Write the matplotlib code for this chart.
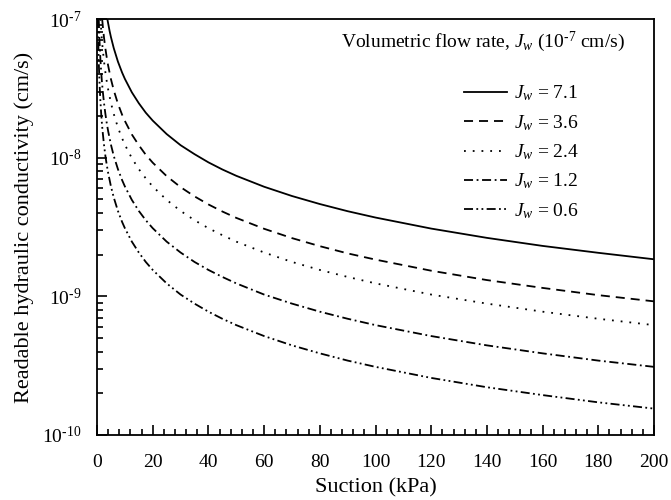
import matplotlib
matplotlib.use('Agg')
import numpy as np
import matplotlib.pyplot as plt
from matplotlib.ticker import MultipleLocator, LogLocator, NullFormatter, FuncFormatter

# curves: suction (kPa) vs readable hydraulic conductivity (cm/s)
s_71 = [3.7, 4.5, 5, 6, 7.5, 9, 10, 12.5, 15, 17.5, 20, 25, 30, 35, 40, 45, 50, 60, 70, 80,
        90, 100, 120, 140, 160, 180, 200]
k_71 = [1.0e-7, 8.22e-8, 7.4e-8, 6.17e-8, 4.93e-8, 4.11e-8, 3.7e-8, 2.96e-8, 2.47e-8, 2.11e-8,
        1.85e-8, 1.48e-8, 1.23e-8, 1.06e-8, 9.25e-9, 8.22e-9, 7.4e-9, 6.17e-9, 5.29e-9, 4.63e-9,
        4.11e-9, 3.7e-9, 3.08e-9, 2.64e-9, 2.31e-9, 2.06e-9, 1.85e-9]

s_36 = [1.84, 2.2, 2.5, 3, 3.5, 4, 5, 6, 7.5, 9, 10, 12.5, 15, 17.5, 20, 25, 30, 35, 40, 45,
        50, 60, 70, 80, 90, 100, 120, 140, 160, 180, 200]
k_36 = [1.0e-7, 8.36e-8, 7.36e-8, 6.13e-8, 5.26e-8, 4.6e-8, 3.68e-8, 3.07e-8, 2.45e-8, 2.04e-8,
        1.84e-8, 1.47e-8, 1.23e-8, 1.05e-8, 9.2e-9, 7.36e-9, 6.13e-9, 5.26e-9, 4.6e-9, 4.09e-9,
        3.68e-9, 3.07e-9, 2.63e-9, 2.3e-9, 2.04e-9, 1.84e-9, 1.53e-9, 1.31e-9, 1.15e-9, 1.02e-9,
        9.2e-10]

s_24 = [1.24, 1.5, 1.7, 2, 2.5, 3, 3.5, 4, 5, 6, 7.5, 9, 10, 12.5, 15, 17.5, 20, 25, 30, 35,
        40, 45, 50, 60, 70, 80, 90, 100, 120, 140, 160, 180, 200]
k_24 = [1.0e-7, 8.27e-8, 7.29e-8, 6.2e-8, 4.96e-8, 4.13e-8, 3.54e-8, 3.1e-8, 2.48e-8, 2.07e-8,
        1.65e-8, 1.38e-8, 1.24e-8, 9.92e-9, 8.27e-9, 7.09e-9, 6.2e-9, 4.96e-9, 4.13e-9, 3.54e-9,
        3.1e-9, 2.76e-9, 2.48e-9, 2.07e-9, 1.77e-9, 1.55e-9, 1.38e-9, 1.24e-9, 1.03e-9,
        8.86e-10, 7.75e-10, 6.89e-10, 6.2e-10]

s_12 = [0.62, 0.75, 0.85, 1, 1.2, 1.5, 1.7, 2, 2.5, 3, 3.5, 4, 5, 6, 7.5, 9, 10, 12.5, 15,
        17.5, 20, 25, 30, 35, 40, 45, 50, 60, 70, 80, 90, 100, 120, 140, 160, 180, 200]
k_12 = [1.0e-7, 8.27e-8, 7.29e-8, 6.2e-8, 5.17e-8, 4.13e-8, 3.65e-8, 3.1e-8, 2.48e-8, 2.07e-8,
        1.77e-8, 1.55e-8, 1.24e-8, 1.03e-8, 8.27e-9, 6.89e-9, 6.2e-9, 4.96e-9, 4.13e-9, 3.54e-9,
        3.1e-9, 2.48e-9, 2.07e-9, 1.77e-9, 1.55e-9, 1.38e-9, 1.24e-9, 1.03e-9, 8.86e-10,
        7.75e-10, 6.89e-10, 6.2e-10, 5.17e-10, 4.43e-10, 3.88e-10, 3.44e-10, 3.1e-10]

s_06 = [0.31, 0.38, 0.43, 0.5, 0.6, 0.75, 0.85, 1, 1.2, 1.5, 1.7, 2, 2.5, 3, 3.5, 4, 5, 6,
        7.5, 9, 10, 12.5, 15, 17.5, 20, 25, 30, 35, 40, 45, 50, 60, 70, 80, 90, 100, 120, 140,
        160, 180, 200]
k_06 = [1.0e-7, 8.16e-8, 7.21e-8, 6.2e-8, 5.17e-8, 4.13e-8, 3.65e-8, 3.1e-8, 2.58e-8, 2.07e-8,
        1.82e-8, 1.55e-8, 1.24e-8, 1.03e-8, 8.86e-9, 7.75e-9, 6.2e-9, 5.17e-9, 4.13e-9, 3.44e-9,
        3.1e-9, 2.48e-9, 2.07e-9, 1.77e-9, 1.55e-9, 1.24e-9, 1.03e-9, 8.86e-10, 7.75e-10,
        6.89e-10, 6.2e-10, 5.17e-10, 4.43e-10, 3.88e-10, 3.44e-10, 3.1e-10, 2.58e-10, 2.21e-10,
        1.94e-10, 1.72e-10, 1.55e-10]

labels = ['7.1', '3.6', '2.4', '1.2', '0.6']

plt.rcParams['font.family'] = 'Liberation Serif'
plt.rcParams['mathtext.fontset'] = 'custom'
plt.rcParams['mathtext.rm'] = 'Liberation Serif'
plt.rcParams['mathtext.it'] = 'Liberation Serif:italic'
plt.rcParams['lines.scale_dashes'] = False

fig = plt.figure(figsize=(6.71, 5.0), dpi=100)
ax = fig.add_axes([0.1446, 0.13, 0.8301, 0.832])

lw = 1.3
series = [(s_71, k_71, '-'),
          (s_36, k_36, (0, (6.5, 4.3))),
          (s_24, k_24, (0, (1.3, 5.0))),
          (s_12, k_12, (0, (6.5, 2.6, 1.3, 2.6))),
          (s_06, k_06, (0, (6.5, 2.4, 1.3, 2.4, 1.3, 2.4)))]

for (s, k, ls), lab in zip(series, labels):
    ax.plot(s, k, color='black', lw=lw, linestyle=ls, label=r'$J_w$ = ' + lab)

ax.set_yscale('log')
ax.set_xlim(0, 200)
ax.set_ylim(1e-10, 1e-7)

# short hyphen in the exponent, like the reference
def pow_label(v, pos):
    return r'$10^{\text{-}%d}$' % int(round(-np.log10(v)))

ax.xaxis.set_major_locator(MultipleLocator(20))
ax.xaxis.set_minor_locator(MultipleLocator(4))
ax.yaxis.set_major_locator(LogLocator(base=10))
ax.yaxis.set_major_formatter(FuncFormatter(pow_label))
ax.yaxis.set_minor_locator(LogLocator(base=10, subs=range(2, 10)))
ax.yaxis.set_minor_formatter(NullFormatter())
ax.tick_params(which='both', direction='in', top=False, right=False, labelsize=14, width=1.2)
ax.tick_params(which='major', length=7)
ax.tick_params(which='minor', length=4)
ax.tick_params(axis='x', which='major', pad=14)
ax.tick_params(axis='y', which='major', pad=11)
for sp in ax.spines.values():
    sp.set_linewidth(1.3)

ax.set_xlabel('Suction (kPa)', fontsize=16)
ax.set_ylabel('Readable hydraulic conductivity (cm/s)', fontsize=16)
ax.xaxis.set_label_coords(0.5, -0.103)
ax.yaxis.set_label_coords(-0.113, 0.5)

ax.text(0.438, 0.945, r'Volumetric flow rate, $J_w$ (10$^{\text{-}7}$ cm/s)',
        transform=ax.transAxes, fontsize=14, ha='left', va='center')
ax.legend(loc='upper left', bbox_to_anchor=(0.627, 0.887), frameon=False, fontsize=14,
          handlelength=2.2, handletextpad=0.4, labelspacing=0.5)

fig.savefig('out.png', dpi=100)
